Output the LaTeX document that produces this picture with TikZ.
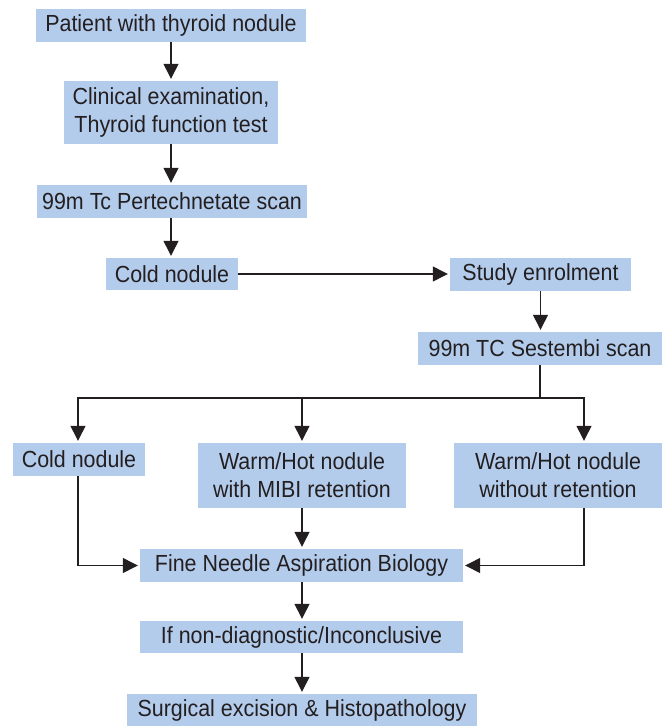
\documentclass[tikz,border=0pt]{standalone}
\usepackage{fontspec}
\setmainfont{Liberation Sans}[FakeStretch=0.92]
\usetikzlibrary{arrows.meta}
\definecolor{boxblue}{RGB}{180,204,236}
\definecolor{lineblk}{RGB}{35,31,32}
\tikzset{
  flowbox/.style={fill=boxblue, draw=none, inner sep=0pt, align=center,
    font=\fontsize{23.3}{28}\selectfont, text=lineblk},
  arr/.style={draw=lineblk, line width=1.3pt,
    -{Triangle[width=15pt,length=15pt]}, shorten >=2pt},
  ln/.style={draw=lineblk, line width=1.3pt}
}
\begin{document}
\begin{tikzpicture}[x=1pt,y=-1pt]
\useasboundingbox (0,0) rectangle (666,726);
\node[flowbox, minimum width=270pt, minimum height=33pt] (n1) at (171,25.5) {Patient with thyroid nodule};
\node[flowbox, minimum width=214pt, minimum height=63pt] (n2) at (171,112.5) {Clinical examination,\\Thyroid function test};
\node[flowbox, minimum width=270pt, minimum height=33pt] (n3) at (172,201.5) {99m Tc Pertechnetate scan};
\node[flowbox, minimum width=132pt, minimum height=32pt] (n4) at (172,274) {Cold nodule};
\node[flowbox, minimum width=181pt, minimum height=33pt] (n5) at (540.5,274.5) {Study enrolment};
\node[flowbox, minimum width=244pt, minimum height=33pt] (n6) at (540,348.5) {99m TC Sestembi scan};
\node[flowbox, minimum width=132pt, minimum height=33pt] (n7) at (79,459.5) {Cold nodule};
\node[flowbox, minimum width=208pt, minimum height=65pt] (n8) at (302,475.5) {Warm/Hot nodule\\with MIBI retention};
\node[flowbox, minimum width=208pt, minimum height=65pt] (n9) at (558,475.5) {Warm/Hot nodule\\without retention};
\node[flowbox, minimum width=323pt, minimum height=33pt] (n10) at (301.5,565.5) {Fine Needle Aspiration Biology};
\node[flowbox, minimum width=323pt, minimum height=32pt] (n11) at (301.5,637) {If non-diagnostic/Inconclusive};
\node[flowbox, minimum width=350pt, minimum height=32pt] (n12) at (302,710) {Surgical excision \& Histopathology};

\coordinate (bl) at (78,398);
\coordinate (bm) at (302,398);
\coordinate (brr) at (584,398);

\draw[arr] (n1.south) -- (n1.south |- n2.north);
\draw[arr] (n2.south) -- (n2.south |- n3.north);
\draw[arr] (n3.south -| n2.south) -- (n2.south |- n4.north);
\draw[arr] (n4.east) -- (n4.east -| n5.west);
\draw[arr] (n5.south) -- (n5.south |- n6.north);
\draw[arr] (n6.south) |- (bl) -- (bl |- n7.north);
\draw[arr] (n6.south) |- (brr) -- (brr |- n9.north);
\draw[arr] (bm) -- (bm |- n8.north);
\draw[arr] (bl |- n7.south) |- (n10.west);
\draw[arr] (brr |- n9.south) |- (n10.east);
\draw[arr] (n8.south) -- (n8.south |- n10.north);
\draw[arr] (n8.south |- n10.south) -- (n8.south |- n11.north);
\draw[arr] (n8.south |- n11.south) -- (n8.south |- n12.north);
\end{tikzpicture}
\end{document}
